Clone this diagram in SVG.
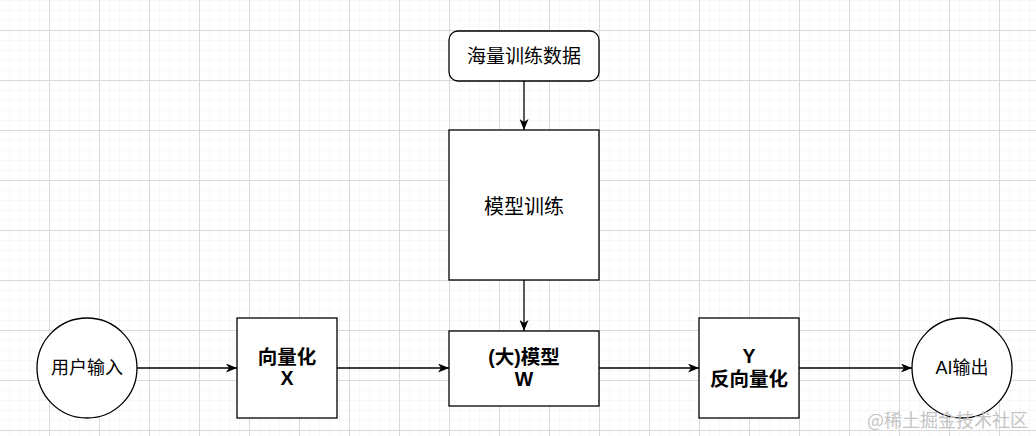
<svg xmlns="http://www.w3.org/2000/svg" width="1036" height="436" viewBox="0 0 1036 436">
<defs>
<pattern id="minor" x="9" y="0" width="10" height="10" patternUnits="userSpaceOnUse">
<path d="M0,0 V10 M0,0 H10" fill="none" stroke="#efefef" stroke-width="1"/>
</pattern>
<pattern id="major" x="49" y="30" width="50" height="50" patternUnits="userSpaceOnUse">
<path d="M0.5,0 V50 M0,0.5 H50" fill="none" stroke="#d9d9d9" stroke-width="1"/>
</pattern>
<marker id="arr" viewBox="0 0 11 9" refX="11" refY="4.5" markerWidth="11" markerHeight="9" markerUnits="userSpaceOnUse" orient="auto">
<path d="M0,0 L11,4.5 L0,9 L3,4.5 Z" fill="#000"/>
</marker>
</defs>
<style>
.shape{fill:#fff;stroke:#000;stroke-width:1.3}
.t{font-family:"Liberation Sans","Noto Sans CJK SC",sans-serif;font-size:18px;fill:#000;text-anchor:middle}
.b{font-weight:bold;font-size:19.5px}
.edge{fill:none;stroke:#000;stroke-width:1.3;marker-end:url(#arr)}
.wm{font-family:"Noto Sans CJK SC",sans-serif;font-size:18px;fill:#c4c4c4;text-anchor:end}
</style>
<rect width="1036" height="436" fill="#fff"/>
<rect width="1036" height="436" fill="url(#minor)"/>
<rect width="1036" height="436" fill="url(#major)"/>
<g id="connectors">
<path class="edge" d="M524,81 V130"/>
<path class="edge" d="M524,280 V331"/>
<path class="edge" d="M137,368 H237"/>
<path class="edge" d="M337,368 H449"/>
<path class="edge" d="M599,368 H699"/>
<path class="edge" d="M799,368 H912"/>
</g>
<g id="data">
<rect class="shape" x="449" y="31" width="150" height="50" rx="9"/>
<text class="t" x="524" y="63" style="font-size:19px">海量训练数据</text>
</g>
<g id="training">
<rect class="shape" x="449" y="130" width="150" height="150"/>
<text class="t" x="524" y="214" style="font-size:20px">模型训练</text>
</g>
<g id="input">
<circle class="shape" cx="87" cy="368" r="50"/>
<text class="t" x="87" y="374">用户输入</text>
</g>
<g id="vectorize">
<rect class="shape" x="237" y="318" width="100" height="100"/>
<text class="t b" x="287" y="364">向量化</text>
<text class="t b" x="287" y="385">X</text>
</g>
<g id="model">
<rect class="shape" x="449" y="331" width="150" height="75"/>
<text class="t b" x="524" y="364">(大)模型</text>
<text class="t b" x="524" y="386">W</text>
</g>
<g id="devectorize">
<rect class="shape" x="699" y="318" width="100" height="100"/>
<text class="t b" x="749" y="363">Y</text>
<text class="t b" x="749" y="386">反向量化</text>
</g>
<g id="output">
<circle class="shape" cx="962" cy="368" r="50"/>
<text class="t" x="962" y="374">AI输出</text>
</g>
<text class="wm" x="1028" y="427">@稀土掘金技术社区</text>
</svg>
